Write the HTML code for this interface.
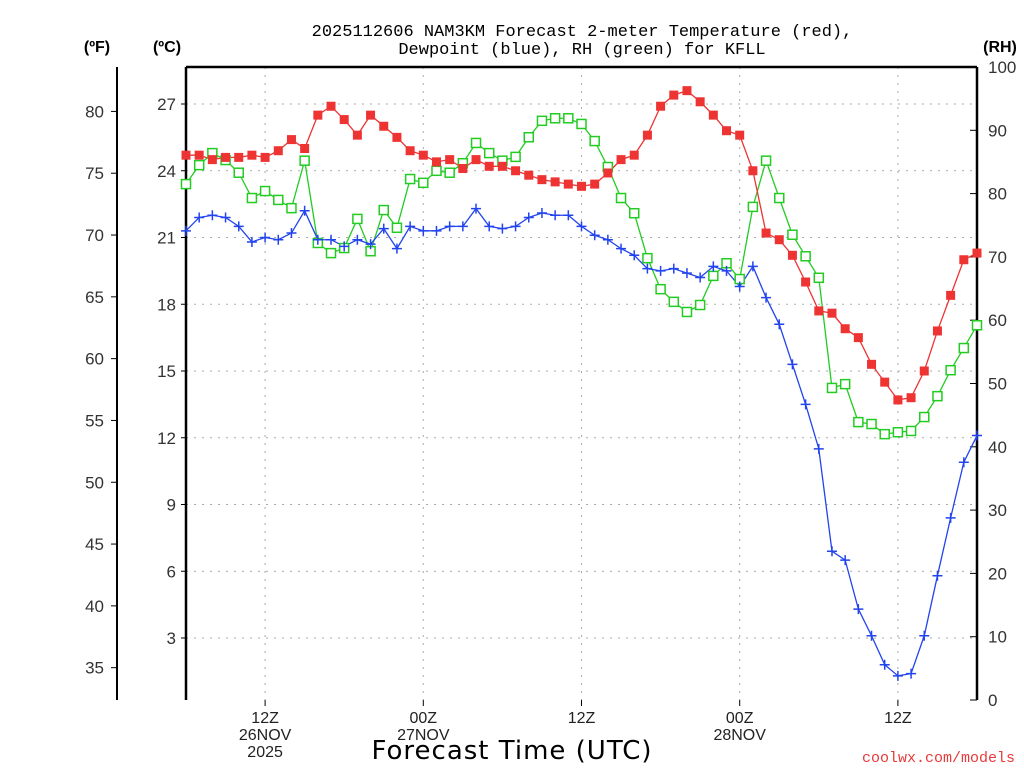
<!DOCTYPE html>
<html><head><meta charset="utf-8"><style>
html,body{margin:0;padding:0;background:#fff;}
svg{display:block;font-family:"Liberation Sans",sans-serif;}
</style></head><body>
<svg id="chart" width="1024" height="768" viewBox="0 0 1024 768" xmlns="http://www.w3.org/2000/svg">
<rect width="1024" height="768" fill="#fff"/>
<g font-family="Liberation Mono, monospace" font-size="17" text-anchor="middle" fill="#000">
<text x="582" y="36">2025112606 NAM3KM Forecast 2-meter Temperature (red),</text>
<text x="582" y="54">Dewpoint (blue), RH (green) for KFLL</text>
</g>
<text x="97" y="52" font-weight="bold" font-size="16" text-anchor="middle">(ºF)</text>
<text x="167" y="52" font-weight="bold" font-size="16" text-anchor="middle">(ºC)</text>
<text x="1000" y="52" font-weight="bold" font-size="16" text-anchor="middle">(RH)</text>
<g id="grid"></g>
<g id="axes"></g>
<g id="series"></g>
<text x="512" y="759" font-family="DejaVu Sans, sans-serif" font-size="26" text-anchor="middle" letter-spacing="1">Forecast Time (UTC)</text>
<text x="1015" y="762" font-family="Liberation Mono, monospace" font-size="15" fill="#e83a3a" text-anchor="end">coolwx.com/models</text>
</svg>
<script>
const tempC=[24.7,24.7,24.5,24.6,24.6,24.7,24.6,24.9,25.4,25.0,26.5,26.9,26.3,25.6,26.5,26.0,25.5,24.9,24.7,24.4,24.5,24.1,24.5,24.2,24.2,24.0,23.8,23.6,23.5,23.4,23.3,23.4,23.9,24.5,24.7,25.6,26.9,27.4,27.6,27.1,26.5,25.8,25.6,24.0,21.2,20.9,20.2,19.0,17.7,17.6,16.9,16.5,15.3,14.5,13.7,13.8,15.0,16.8,18.4,20.0,20.3];
const dewC=[21.3,21.9,22.0,21.9,21.5,20.8,21.0,20.9,21.2,22.2,20.9,20.9,20.6,20.9,20.7,21.4,20.5,21.5,21.3,21.3,21.5,21.5,22.3,21.5,21.4,21.5,21.9,22.1,22.0,22.0,21.5,21.1,20.9,20.5,20.2,19.6,19.5,19.6,19.4,19.2,19.7,19.5,18.8,19.7,18.3,17.1,15.3,13.5,11.5,6.9,6.5,4.3,3.1,1.8,1.3,1.4,3.1,5.8,8.4,10.9,12.1];
const rh=[81.5,84.5,86.4,85.3,83.3,79.3,80.4,79.0,77.7,85.2,72.2,70.6,71.4,76.0,70.9,77.4,74.6,82.3,81.7,83.6,83.3,84.8,88.0,86.4,85.2,85.8,88.9,91.5,91.9,91.9,91.0,88.3,84.2,79.3,76.9,69.8,64.9,62.9,61.3,62.4,67.0,69.0,66.5,77.9,85.2,79.3,73.5,70.1,66.7,49.3,49.9,43.9,43.6,42.0,42.3,42.5,44.7,48.0,52.1,55.6,59.2];
const cTicks=[3,6,9,12,15,18,21,24,27];
const fTicks=[35,40,45,50,55,60,65,70,75,80];
const rhTicks=[0,10,20,30,40,50,60,70,80,90,100];
const xTickHours=[6,18,30,42,54];
const xTickLabels=[["12Z","26NOV","2025"],["00Z","27NOV",""],["12Z","",""],["00Z","28NOV",""],["12Z","",""]];

const NS="http://www.w3.org/2000/svg";
const L=186,R=977,T=67,B=700;
const xS=h=>L+(R-L)*h/60;
const yC=c=>704.75-c*22.25;
const yF=f=>yC((f-32)/1.8);
const yRH=v=>B-(B-T)*v/100;
function mk(tag,attrs,parent){const e=document.createElementNS(NS,tag);for(const k in attrs)e.setAttribute(k,attrs[k]);parent.appendChild(e);return e;}
const grid=document.getElementById('grid'),axes=document.getElementById('axes'),ser=document.getElementById('series');

cTicks.forEach(c=>{
 const g=mk('line',{x1:L,x2:R,y1:yC(c),y2:yC(c),stroke:'#aaa','stroke-dasharray':'2 6'},grid);
 
 
 mk('line',{x1:L-5,x2:L,y1:yC(c),y2:yC(c),stroke:'#000'},axes);
 const t=mk('text',{x:L-10,y:yC(c)+6,'text-anchor':'end','font-size':'17',fill:'#333'},axes);t.textContent=c;
 
 
});
xTickHours.forEach((h,i)=>{
 const g=mk('line',{x1:xS(h),x2:xS(h),y1:T,y2:B,stroke:'#aaa','stroke-dasharray':'2 6'},grid);
 
 
 mk('line',{x1:xS(h),x2:xS(h),y1:B,y2:B+6,stroke:'#000'},axes);
 xTickLabels[i].forEach((s,j)=>{ if(!s)return;
  const t=mk('text',{x:xS(h),y:723+j*17,'text-anchor':'middle','font-size':'16',fill:'#222'},axes);t.textContent=s;
  
  
 });
});
fTicks.forEach(f=>{
 mk('line',{x1:111,x2:117,y1:yF(f),y2:yF(f),stroke:'#000'},axes);
 const t=mk('text',{x:104,y:yF(f)+6,'text-anchor':'end','font-size':'17',fill:'#333'},axes);t.textContent=f;
 
 
});
mk('line',{x1:117,x2:117,y1:T,y2:B,stroke:'#000','stroke-width':2},axes);
rhTicks.forEach(v=>{
 mk('line',{x1:R-7,x2:R,y1:yRH(v),y2:yRH(v),stroke:'#000'},axes);
 const t=mk('text',{x:988,y:yRH(v)+6,'text-anchor':'start','font-size':'17',fill:'#333'},axes);t.textContent=v;
 
 
});
mk('line',{x1:L,x2:L,y1:T,y2:B,stroke:'#000','stroke-width':2.5},axes);
mk('line',{x1:L,x2:R,y1:T,y2:T,stroke:'#000','stroke-width':2.5},axes);
mk('line',{x1:R,x2:R,y1:T,y2:B,stroke:'#000','stroke-width':2.5},axes);

function line(vals,yf,color,name){
 const p=mk('polyline',{points:vals.map((v,i)=>xS(i)+','+yf(v)).join(' '),fill:'none',stroke:color,'stroke-width':1.3},ser);
 
 
}
line(rh,yRH,'#22cc22','rh-line');
line(dewC,yC,'#2244ee','dewpoint-line');
line(tempC,yC,'#ee3333','temperature-line');
rh.forEach((v,i)=>{
 const m=mk('rect',{x:xS(i)-4.5,y:yRH(v)-4.5,width:9,height:9,fill:'#fff',stroke:'#22cc22','stroke-width':1.5},ser);
 
 
});
dewC.forEach((v,i)=>{
 const x=xS(i),y=yC(v);
 const m=mk('path',{d:`M${x-5} ${y}H${x+5}M${x} ${y-5}V${y+5}`,stroke:'#2244ee','stroke-width':1.5},ser);
 
 
});
tempC.forEach((v,i)=>{
 const m=mk('rect',{x:xS(i)-4.5,y:yC(v)-4.5,width:9,height:9,fill:'#ee3333'},ser);
 
 
});
</script>
</body></html>
